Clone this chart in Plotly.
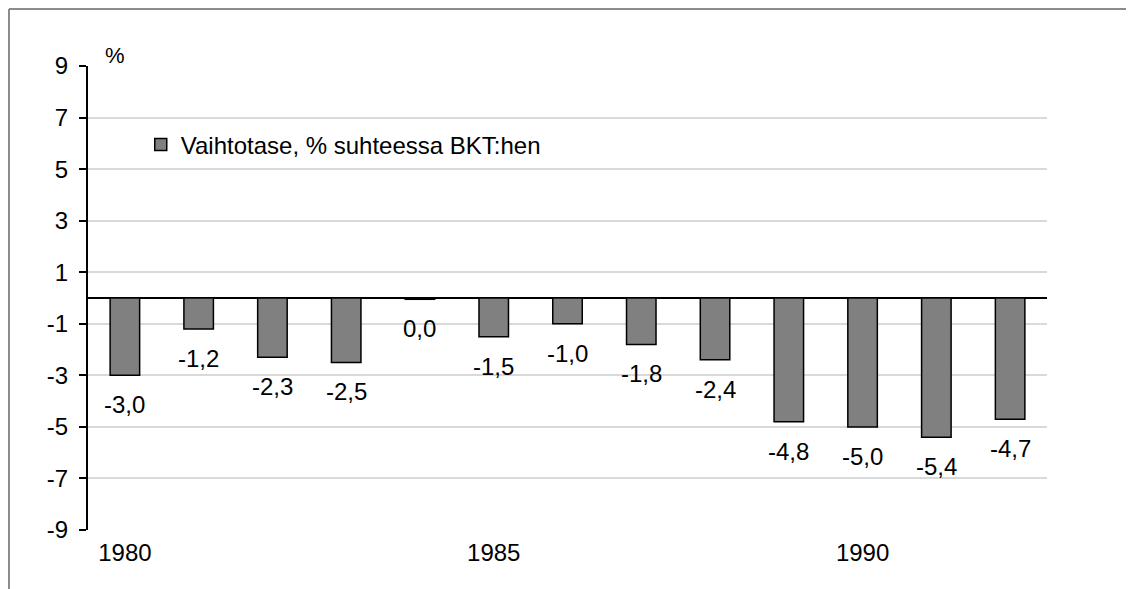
import plotly.graph_objects as go

years = [1980, 1981, 1982, 1983, 1984, 1985, 1986, 1987, 1988, 1989, 1990, 1991, 1992]
values = [-3.0, -1.2, -2.3, -2.5, -0.05, -1.5, -1.0, -1.8, -2.4, -4.8, -5.0, -5.4, -4.7]
labels = ["-3,0", "-1,2", "-2,3", "-2,5", "0,0", "-1,5", "-1,0", "-1,8", "-2,4", "-4,8", "-5,0", "-5,4", "-4,7"]
series_name = "Vaihtotase, % suhteessa BKT:hen"
y_ticks = [-9, -7, -5, -3, -1, 1, 3, 5, 7, 9]
x_ticks = [1980, 1985, 1990]

FONT = "Liberation Sans, Arial, sans-serif"
FS = 24

fig = go.Figure()
fig.add_trace(go.Bar(
    x=years, y=values, name=series_name,
    marker=dict(color="#808080", line=dict(color="black", width=1.5)),
    width=0.4,
))

for x, y, t in zip(years, values, labels):
    fig.add_annotation(x=x, y=y, text=t, showarrow=False, xanchor="center",
                       yanchor="top", yshift=-14,
                       font=dict(family=FONT, size=FS, color="black"))

fig.add_annotation(xref="paper", yref="paper", x=0.016, y=1, text="%",
                   showarrow=False, xanchor="left", yanchor="bottom", yshift=-4,
                   font=dict(family=FONT, size=22, color="black"))

# outer chart border (only top and left edges are inside the visible frame)
bx = -79 / 959
by = 521 / 464
fig.add_shape(type="line", xref="paper", yref="paper", x0=bx, y0=by, x1=1.3, y1=by,
              line=dict(color="#8c8c8c", width=2), layer="below")
fig.add_shape(type="line", xref="paper", yref="paper", x0=bx, y0=by, x1=bx, y1=-0.5,
              line=dict(color="#8c8c8c", width=2), layer="below")

fig.update_layout(
    width=1126, height=581,
    margin=dict(l=80, r=87, t=58, b=59),
    paper_bgcolor="white", plot_bgcolor="white",
    font=dict(family=FONT, size=FS, color="black"),
    showlegend=True,
    legend=dict(x=0.055, y=0.83, xanchor="left", yanchor="middle",
                bgcolor="rgba(0,0,0,0)", font=dict(family=FONT, size=FS, color="black")),
    xaxis=dict(range=[1979.5, 1992.5], tickvals=x_ticks, ticktext=[str(v) for v in x_ticks],
               showgrid=False, showline=False, zeroline=False, ticks="",
               ticklabelstandoff=6,
               tickfont=dict(family=FONT, size=FS, color="black")),
    yaxis=dict(range=[-9, 9], tickvals=y_ticks, ticktext=[str(v) for v in y_ticks],
               showgrid=True, gridcolor="#d9d9d9", gridwidth=1.5,
               zeroline=True, zerolinecolor="black", zerolinewidth=2,
               showline=True, linecolor="black", linewidth=2,
               ticks="outside", ticklen=7, tickwidth=2, tickcolor="black",
               ticklabelstandoff=6,
               tickfont=dict(family=FONT, size=FS, color="black")),
)

fig.write_html("out.html")
